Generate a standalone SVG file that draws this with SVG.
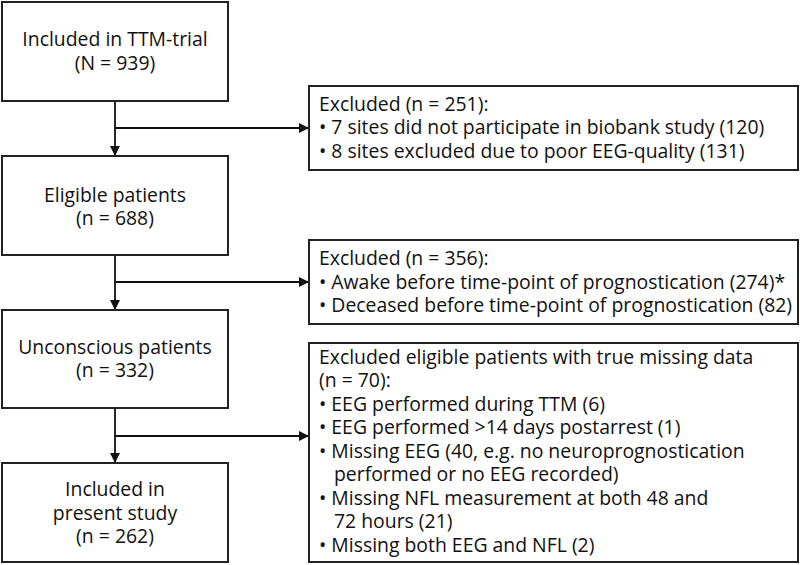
<svg xmlns="http://www.w3.org/2000/svg" width="800" height="565" viewBox="0 0 800 565">
<defs>
<marker id="ah" viewBox="0 0 10 10" refX="10" refY="5" markerWidth="10" markerHeight="10" markerUnits="userSpaceOnUse" orient="auto">
<path d="M0,0 L10,5 L0,10 z" fill="#111"/>
</marker>
<style>
.box{fill:#fff;stroke:#222;stroke-width:2}
.t{font-family:"Open Sans","Noto Sans","DejaVu Sans",sans-serif;font-size:19.4px;fill:#111}
.c{text-anchor:middle}
.ln{stroke:#111;stroke-width:1.8;fill:none}
</style>
</defs>
<rect width="800" height="565" fill="#fff"/>
<g id="connectors">
<path class="ln" d="M115,101 V156" marker-end="url(#ah)"/>
<path class="ln" d="M115,128 H309" marker-end="url(#ah)"/>
<path class="ln" d="M115,255 V310" marker-end="url(#ah)"/>
<path class="ln" d="M115,282 H309" marker-end="url(#ah)"/>
<path class="ln" d="M115,408 V463" marker-end="url(#ah)"/>
<path class="ln" d="M115,436 H309" marker-end="url(#ah)"/>
</g>
<g id="n1">
<rect class="box" x="2" y="2" width="226" height="99"/>
<text class="t c" x="115" y="46">Included in TTM-trial</text>
<text class="t c" x="115" y="70">(N = 939)</text>
</g>
<g id="n2">
<rect class="box" x="2" y="156" width="226" height="99"/>
<text class="t c" x="115" y="202">Eligible patients</text>
<text class="t c" x="115" y="225">(n = 688)</text>
</g>
<g id="n3">
<rect class="box" x="2" y="310" width="226" height="98"/>
<text class="t c" x="115" y="354">Unconscious patients</text>
<text class="t c" x="115" y="377">(n = 332)</text>
</g>
<g id="n4">
<rect class="box" x="2" y="463" width="226" height="99"/>
<text class="t c" x="115" y="496">Included in</text>
<text class="t c" x="115" y="520">present study</text>
<text class="t c" x="115" y="543">(n = 262)</text>
</g>
<g id="e1">
<rect class="box" x="309" y="86" width="489" height="84"/>
<text class="t" x="319" y="111">Excluded (n = 251):</text>
<text class="t" x="319" y="134">• 7 sites did not participate in biobank study (120)</text>
<text class="t" x="319" y="158">• 8 sites excluded due to poor EEG-quality (131)</text>
</g>
<g id="e2">
<rect class="box" x="309" y="240" width="489" height="84"/>
<text class="t" x="319" y="265">Excluded (n = 356):</text>
<text class="t" x="319" y="289">• Awake before time-point of prognostication (274)*</text>
<text class="t" x="319" y="312">• Deceased before time-point of prognostication (82)</text>
</g>
<g id="e3">
<rect class="box" x="309" y="343" width="489" height="219"/>
<text class="t" x="319" y="364">Excluded eligible patients with true missing data</text>
<text class="t" x="319" y="387">(n = 70):</text>
<text class="t" x="319" y="411">• EEG performed during TTM (6)</text>
<text class="t" x="319" y="434">• EEG performed &gt;14 days postarrest (1)</text>
<text class="t" x="319" y="458">• Missing EEG (40, e.g. no neuroprognostication</text>
<text class="t" x="334" y="481">performed or no EEG recorded)</text>
<text class="t" x="319" y="505">• Missing NFL measurement at both 48 and</text>
<text class="t" x="334" y="528">72 hours (21)</text>
<text class="t" x="319" y="552">• Missing both EEG and NFL (2)</text>
</g>
</svg>
